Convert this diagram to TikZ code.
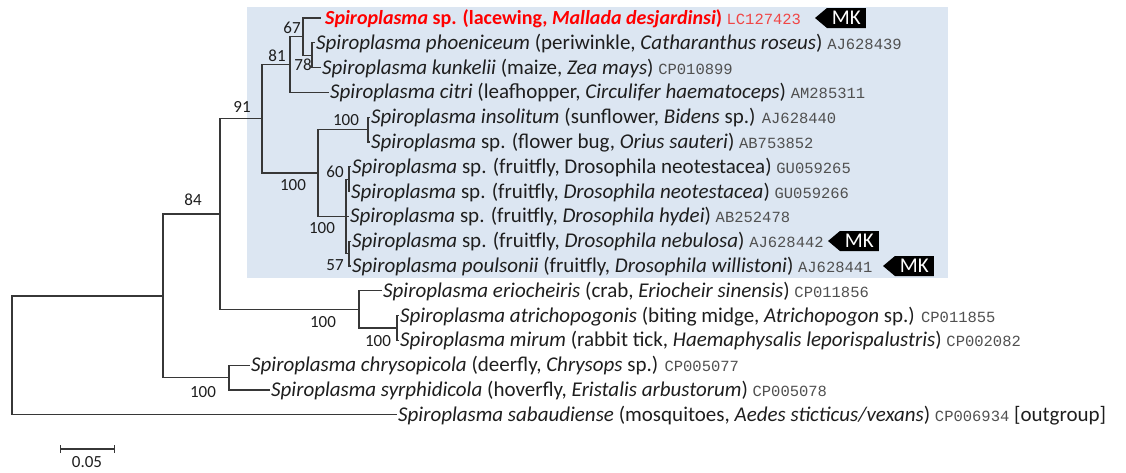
\documentclass[tikz,border=0pt]{standalone}
\usepackage{fontspec}
\setmainfont{Carlito}
\newfontfamily\accfont{Liberation Mono}
\usetikzlibrary{shapes.symbols,arrows.meta}
\definecolor{bgblue}{RGB}{220,230,242}
\definecolor{txt}{RGB}{30,30,30}
\definecolor{accgray}{RGB}{80,80,80}
\definecolor{branchc}{RGB}{55,55,55}
\definecolor{redlab}{RGB}{255,0,0}
\definecolor{redacc}{RGB}{240,70,70}
\newcommand{\acc}[1]{{\accfont\fontsize{15.5}{16}\selectfont\color{accgray}#1}}
\newcommand{\accred}[1]{{\accfont\fontsize{15.5}{16}\selectfont\color{redacc}#1}}
\tikzset{
  branch/.style={draw=branchc, line width=1.3pt},
  taxon/.style={anchor=base west, inner sep=1pt, yshift=-6.5pt, font=\fontsize{21}{24}\selectfont, text=txt},
  boot/.style={inner sep=0pt, font=\fontsize{17}{18}\selectfont, text=txt},
  mktag/.style={signal, signal to=west, signal pointer angle=80, fill=black, text=white,
    font=\fontsize{21}{21}\selectfont, inner xsep=5pt, inner ysep=1pt, minimum height=20pt, anchor=east}
}
\begin{document}
\begin{tikzpicture}[x=1pt,y=-1pt]
\useasboundingbox (0,0) rectangle (1126,472);
\fill[bgblue] (247,7) rectangle (948,278);
% internal nodes
\coordinate (R) at (12,355.3);
\coordinate (K) at (163,295.85);
\coordinate (H) at (220,214.1);
\coordinate (D) at (262,118.75);
\coordinate (C) at (290,64.5);
\coordinate (A) at (303,36.6);
\coordinate (B) at (312,55.2);
\coordinate (E) at (318,173);
\coordinate (F) at (368,129.6);
\coordinate (G) at (346,216.4);
\coordinate (N60) at (349,179.2);
\coordinate (N57) at (349,253.6);
\coordinate (I) at (359,309.4);
\coordinate (J) at (397,328);
\coordinate (L) at (229,377.6);
% leaves
\coordinate (l1) at (321,18);
\coordinate (l2) at (315,42.8);
\coordinate (l3) at (321,67.6);
\coordinate (l4) at (329,92.4);
\coordinate (l5) at (370,117.2);
\coordinate (l6) at (370,142);
\coordinate (l7) at (351,166.8);
\coordinate (l8) at (350,191.6);
\coordinate (l9) at (349,216.4);
\coordinate (l10) at (351,241.2);
\coordinate (l11) at (351,266);
\coordinate (l12) at (382,290.8);
\coordinate (l13) at (399,315.6);
\coordinate (l14) at (399,340.4);
\coordinate (l15) at (250,365.2);
\coordinate (l16) at (270,390);
\coordinate (l17) at (397,414.8);
% branches
\foreach \p/\c in {R/K,R/l17,K/H,K/L,H/D,H/I,D/C,D/E,C/A,C/l4,A/l1,A/B,B/l2,B/l3,E/F,E/G,F/l5,F/l6,G/N60,G/l9,G/N57,N60/l7,N60/l8,N57/l10,N57/l11,I/l12,I/J,J/l13,J/l14,L/l15,L/l16}
  \draw[branch] (\p) |- (\c);
% taxon labels
\node[taxon, text=redlab, font=\fontsize{20}{24}\selectfont\bfseries, xshift=3pt] (t1) at (l1) {\textit{Spiroplasma} sp. (lacewing, \textit{Mallada desjardinsi}) {\mdseries\accred{LC127423}}};
\node[taxon] (t2) at (l2) {\textit{Spiroplasma phoeniceum} (periwinkle, \textit{Catharanthus roseus}) \acc{AJ628439}};
\node[taxon] (t3) at (l3) {\textit{Spiroplasma kunkelii} (maize, \textit{Zea mays}) \acc{CP010899}};
\node[taxon] (t4) at (l4) {\textit{Spiroplasma citri} (leafhopper, \textit{Circulifer haematoceps}) \acc{AM285311}};
\node[taxon] (t5) at (l5) {\textit{Spiroplasma insolitum} (sunflower, \textit{Bidens} sp.) \acc{AJ628440}};
\node[taxon] (t6) at (l6) {\textit{Spiroplasma} sp. (flower bug, \textit{Orius sauteri}) \acc{AB753852}};
\node[taxon] (t7) at (l7) {\textit{Spiroplasma} sp. (fruitfly, Drosophila neotestacea) \acc{GU059265}};
\node[taxon] (t8) at (l8) {\textit{Spiroplasma} sp. (fruitfly, \textit{Drosophila neotestacea}) \acc{GU059266}};
\node[taxon] (t9) at (l9) {\textit{Spiroplasma} sp. (fruitfly, \textit{Drosophila hydei}) \acc{AB252478}};
\node[taxon] (t10) at (l10) {\textit{Spiroplasma} sp. (fruitfly, \textit{Drosophila nebulosa}) \acc{AJ628442}};
\node[taxon] (t11) at (l11) {\textit{Spiroplasma poulsonii} (fruitfly, \textit{Drosophila willistoni}) \acc{AJ628441}};
\node[taxon] (t12) at (l12) {\textit{Spiroplasma eriocheiris} (crab, \textit{Eriocheir sinensis}) \acc{CP011856}};
\node[taxon] (t13) at (l13) {\textit{Spiroplasma atrichopogonis} (biting midge, \textit{Atrichopogon} sp.) \acc{CP011855}};
\node[taxon] (t14) at (l14) {\textit{Spiroplasma mirum} (rabbit tick, \textit{Haemaphysalis leporispalustris}) \acc{CP002082}};
\node[taxon] (t15) at (l15) {\textit{Spiroplasma chrysopicola} (deerfly, \textit{Chrysops} sp.) \acc{CP005077}};
\node[taxon] (t16) at (l16) {\textit{Spiroplasma syrphidicola} (hoverfly, \textit{Eristalis arbustorum}) \acc{CP005078}};
\node[taxon] (t17) at (l17) {\textit{Spiroplasma sabaudiense} (mosquitoes, \textit{Aedes sticticus/vexans}) \acc{CP006934} [outgroup]};
% MK tags
\node[mktag] (mk1) at (866,18) {MK};
\node[mktag] (mk2) at (879,241) {MK};
\node[mktag] (mk3) at (934,266) {MK};
% bootstrap values
\node[boot] (b67) at (292,28) {67};
\node[boot] (b78) at (303,65) {78};
\node[boot] (b81) at (277,56) {81};
\node[boot] (b91) at (242,107) {91};
\node[boot] (b100a) at (346,120) {100};
\node[boot] (b100b) at (293,185) {100};
\node[boot] (b60) at (335,172) {60};
\node[boot] (b100c) at (322,228) {100};
\node[boot] (b57) at (335,265) {57};
\node[boot] (b84) at (193,200) {84};
\node[boot] (b100d) at (323,322) {100};
\node[boot] (b100e) at (378,341) {100};
\node[boot] (b100f) at (203,392) {100};
% scale bar
\coordinate (sb1) at (60,449);
\coordinate (sb2) at (115,449);
\draw[branch, {Bar[width=8pt]}-{Bar[width=8pt]}] (sb1) -- (sb2);
\node[boot] (sbl) at (87,462) {0.05};
\end{tikzpicture}
\end{document}
